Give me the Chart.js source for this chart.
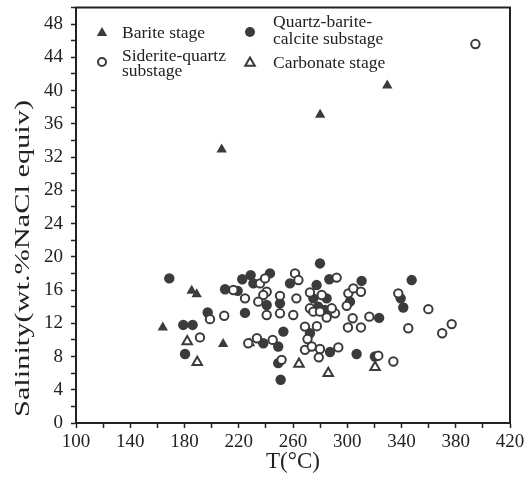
<!DOCTYPE html>
<html>
<head>
<meta charset="utf-8">
<script src="https://cdn.jsdelivr.net/npm/chart.js@4.4.0/dist/chart.umd.min.js"></script>
<style>
  html, body { margin: 0; padding: 0; background: #fff; }
</style>
</head>
<body>
<canvas id="chart" width="527" height="483"></canvas>
<script>
// fluid inclusion data: [T (°C), salinity (wt.% NaCl equiv)]
const barite = [
  [164, 11.5], [185.3, 15.9], [189, 15.5], [208.5, 9.5], [228.3, 9.6],
  [207.4, 32.9], [280, 37.1], [329.5, 40.6]
];
const quartzBariteCalcite = [
  [168.8, 17.4], [179.1, 11.8], [186, 11.8], [180.4, 8.3], [197.1, 13.3],
  [209.9, 16.1], [219.2, 15.9], [222.6, 17.3], [228.8, 17.8], [230.8, 16.8],
  [243, 18.0], [224.6, 13.25], [240.6, 14.2], [250.4, 14.4], [257.8, 16.8],
  [252.9, 11.0], [238.1, 9.6], [249.1, 9.2], [249.1, 7.2], [250.9, 5.2],
  [279.9, 19.2], [277.4, 16.6], [286.8, 17.3], [310.6, 17.1], [275, 15.0],
  [284.8, 15.0], [278.6, 14.0], [283.6, 13.6], [302, 14.6], [323.5, 12.65],
  [272.5, 10.8], [287.3, 8.55], [306.9, 8.3], [320.4, 8.0], [347.5, 17.2],
  [339.4, 15.0], [341.3, 13.9]
];
const sideriteQuartz = [
  [198.8, 12.5], [209.3, 12.9], [191.4, 10.3], [224.6, 15.0], [216, 16.0],
  [235.7, 16.8], [239.4, 17.4], [240.6, 15.8], [238.1, 15.4], [234.4, 14.6],
  [250.4, 15.3], [240.6, 13.0], [250.4, 13.2], [260.2, 13.0], [262.5, 15.0],
  [261.5, 18.0], [264, 17.2], [272.5, 15.7], [272.5, 13.8], [275, 13.4],
  [281.2, 15.4], [284.8, 12.7], [291, 13.2], [288.6, 13.8], [279.9, 13.4],
  [292.2, 17.5], [300.8, 15.6], [304.5, 16.2], [310.1, 15.8], [299.6, 14.1],
  [304, 12.6], [300.5, 11.5], [310.1, 11.5], [316.3, 12.8], [268.8, 11.6],
  [277.6, 11.65], [270.7, 10.1], [268.8, 8.8], [273.8, 9.2], [279.9, 8.9],
  [279, 7.9], [293.4, 9.1], [233.4, 10.2], [245, 10.0], [251.6, 7.6],
  [227, 9.6], [337.6, 15.6], [359.8, 13.7], [345, 11.4], [377, 11.9],
  [370, 10.8], [334, 7.4], [322.9, 8.1], [394.5, 45.6]
];
const carbonate = [
  [182, 9.8], [189.4, 7.3], [264.4, 7.1], [286, 6.0], [320.5, 6.7]
];

const xTicks = [100, 140, 180, 220, 260, 300, 340, 380, 420];
const yTicks = [0, 4, 8, 12, 16, 20, 24, 28, 32, 36, 40, 44, 48];
const yTitle = 'Salinity(wt.%NaCl equiv)';

const ink = '#222';
const mark = '#3b3b3b';
const serif = "'Liberation Serif', 'DejaVu Serif', serif";

function toPts(arr) { return arr.map(p => ({ x: p[0], y: p[1] })); }

// box around the plot
const frame = {
  id: 'frame',
  afterDraw(chart) {
    const { ctx, chartArea: a } = chart;
    ctx.save();
    ctx.strokeStyle = ink;
    ctx.lineWidth = 2;
    ctx.strokeRect(a.left, a.top, a.right - a.left, a.bottom - a.top);
    ctx.restore();
  }
};

// y title: the original is drawn tall and narrow, so stretch it along its length
const stretchedYTitle = {
  id: 'stretchedYTitle',
  afterDraw(chart) {
    const ctx = chart.ctx;
    ctx.save();
    ctx.font = '21px ' + serif;
    const w = ctx.measureText(yTitle).width;
    const len = 317;
    ctx.translate(23, 417);
    ctx.rotate(-Math.PI / 2);
    ctx.scale(len / w, 1);
    ctx.fillStyle = ink;
    ctx.textAlign = 'left';
    ctx.textBaseline = 'middle';
    ctx.fillText(yTitle, 0, 0);
    ctx.restore();
  }
};

// legend drawn inside the plot, two columns
const legendItems = [
  { shape: 'tri', fill: true, mx: 102, my: 33, tx: 122, lines: ['Barite stage'], ly: [33] },
  { shape: 'circle', fill: false, mx: 102, my: 62, tx: 122, lines: ['Siderite-quartz', 'substage'], ly: [56, 71] },
  { shape: 'circle', fill: true, mx: 250, my: 32, tx: 273, lines: ['Quartz-barite-', 'calcite substage'], ly: [22, 39] },
  { shape: 'tri', fill: false, mx: 250, my: 63, tx: 273, lines: ['Carbonate stage'], ly: [63] }
];
const insideLegend = {
  id: 'insideLegend',
  afterDraw(chart) {
    const ctx = chart.ctx;
    ctx.save();
    legendItems.forEach(it => {
      ctx.beginPath();
      if (it.shape === 'circle') {
        ctx.arc(it.mx, it.my, it.fill ? 5 : 4, 0, Math.PI * 2);
      } else {
        const r = it.fill ? 6 : 5.5;
        ctx.moveTo(it.mx, it.my - r);
        ctx.lineTo(it.mx + r * 0.866, it.my + r * 0.5);
        ctx.lineTo(it.mx - r * 0.866, it.my + r * 0.5);
        ctx.closePath();
      }
      if (it.fill) { ctx.fillStyle = mark; ctx.fill(); }
      else { ctx.fillStyle = '#fff'; ctx.fill(); ctx.strokeStyle = mark; ctx.lineWidth = 2; ctx.stroke(); }
      ctx.fillStyle = ink;
      ctx.font = '17.5px ' + serif;
      ctx.textBaseline = 'middle';
      ctx.textAlign = 'left';
      it.lines.forEach((t, i) => ctx.fillText(t, it.tx, it.ly[i]));
    });
    ctx.restore();
  }
};

new Chart(document.getElementById('chart'), {
  type: 'scatter',
  data: {
    datasets: [
      { label: 'Siderite-quartz substage', data: toPts(sideriteQuartz), pointStyle: 'circle',
        pointRadius: 4.2, pointBorderWidth: 2, pointBackgroundColor: '#fff', pointBorderColor: mark },
      { label: 'Quartz-barite-calcite substage', data: toPts(quartzBariteCalcite), pointStyle: 'circle',
        pointRadius: 5.2, pointBorderWidth: 0, pointBackgroundColor: mark, pointBorderColor: mark },
      { label: 'Barite stage', data: toPts(barite), pointStyle: 'triangle',
        pointRadius: 6, pointBorderWidth: 0, pointBackgroundColor: mark, pointBorderColor: mark },
      { label: 'Carbonate stage', data: toPts(carbonate), pointStyle: 'triangle',
        pointRadius: 5.5, pointBorderWidth: 2, pointBackgroundColor: '#fff', pointBorderColor: mark }
    ]
  },
  options: {
    responsive: false,
    animation: false,
    layout: { padding: { top: 7, right: 17, left: 0, bottom: 0 } },
    plugins: { legend: { display: false }, tooltip: { enabled: false } },
    scales: {
      x: {
        type: 'linear', min: 100, max: 420,
        afterFit(s) { s.height = 60; s.paddingLeft = 0; s.paddingRight = 0; },
        ticks: {
          stepSize: 20, autoSkip: false, maxRotation: 0, padding: 3,
          color: ink, font: { family: serif, size: 19 },
          callback: v => (xTicks.includes(v) ? v : '')
        },
        grid: { drawOnChartArea: false, drawTicks: true, tickLength: 5, tickColor: ink, tickWidth: 1.5 },
        border: { display: true, color: ink, width: 2 },
        title: { display: true, text: 'T(°C)', color: ink, font: { family: serif, size: 23 }, padding: { top: 0, bottom: 7 } }
      },
      y: {
        type: 'linear', min: 0, max: 50,
        afterFit(s) { s.width = 76; s.paddingTop = 0; s.paddingBottom = 0; },
        ticks: {
          stepSize: 2, autoSkip: false, padding: 8,
          color: ink, font: { family: serif, size: 19 },
          callback: v => (yTicks.includes(v) ? v : '')
        },
        grid: { drawOnChartArea: false, drawTicks: true, tickLength: 5, tickColor: ink, tickWidth: 1.5 },
        border: { display: true, color: ink, width: 2 }
      }
    }
  },
  plugins: [frame, stretchedYTitle, insideLegend]
});
</script>
</body>
</html>
